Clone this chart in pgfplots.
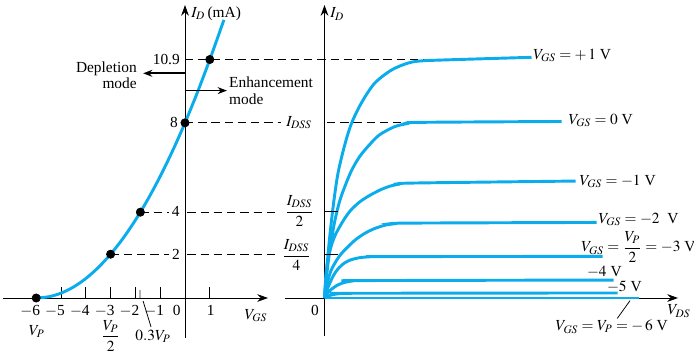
\documentclass[border=0pt]{standalone}
\usepackage{mathptmx}
\usepackage{fontspec}
\setmainfont{Liberation Serif}
\usepackage{pgfplots}
\pgfplotsset{compat=1.18}
\usetikzlibrary{arrows.meta}
\definecolor{curve}{RGB}{10,172,236}
\tikzset{dsh/.style={black,line width=0.6pt,dash pattern=on 5.4pt off 3.2pt}}
\begin{document}
\begin{tikzpicture}
\useasboundingbox (0,0) rectangle (451.1pt,229.45pt);
% ---------------- left: transfer characteristic ----------------
\begin{axis}[
  at={(1.95pt,9.75pt)}, anchor=south west,
  x=16.12pt, y=14.235pt,
  xmin=-7.339, xmax=3.347, ymin=-1.826, ymax=13.379,
  axis lines=middle, enlargelimits=false, clip=false,
  axis line style={line width=0.6pt, -{Stealth[length=7pt,width=5pt]}},
  xtick={-5,-4,-3,-2,-1,1}, xticklabel={\mbox{}}, ytick=\empty,
  xtick align=inside, major tick length=7.2pt,
  tick style={line width=0.6pt, black},
]
\draw[dsh] (axis cs:0,10.89) -- (axis cs:10.56,10.89);
\draw[dsh] (axis cs:0,8) -- (axis cs:3.87,8);
\draw[dsh] (axis cs:-1.8,3.92) -- (axis cs:-0.65,3.92);
\draw[dsh] (axis cs:0.1,3.92) -- (axis cs:3.83,3.92);
\draw[dsh] (axis cs:-3,2) -- (axis cs:-0.65,2);
\draw[dsh] (axis cs:0.1,2) -- (axis cs:3.83,2);
\addplot[curve, line width=1.9pt, smooth] coordinates {
(-6,0) (-5.5,0.056) (-5,0.222) (-4.5,0.5) (-4,0.889) (-3.5,1.389) (-3,2)
(-2.5,2.722) (-2,3.556) (-1.5,4.5) (-1,5.556) (-0.5,6.722) (0,8) (0.5,9.389)
(1,10.889) (1.57,12.7)};
\addplot[only marks, mark=*, mark size=2.7pt, black] coordinates {
(-6,0) (-3,2) (-1.8,3.92) (0,8) (1,10.89)};
\draw[gray!60, line width=1.2pt] (axis cs:-1.8,0) -- (axis cs:-1.8,0.37);
\draw[black, line width=0.5pt] (axis cs:-1.69,-0.14) -- (axis cs:-1.37,-1.32);
% labels
\node[anchor=west, inner sep=0] at (axis cs:0.24,13.0) {$I_D$\,(mA)};
\node at (axis cs:2.86,-0.8) {$V_{GS}$};
\node[anchor=east, inner sep=0] at (axis cs:-0.2,10.87) {10.9};
\node[anchor=east, inner sep=0] at (axis cs:-0.28,8) {8};
\node at (axis cs:-0.375,3.95) {4};
\node at (axis cs:-0.36,2) {2};
\foreach \v in {-6,-5,-4,-3,-2,-1}{
  \edef\tmp{\noexpand\node at (axis cs:\v,-0.58) {\noexpand\llap{$-$}\the\numexpr-\v\relax};}\tmp
}
\node at (axis cs:-0.33,-0.58) {0};
\node at (axis cs:1.04,-0.58) {1};
\node at (axis cs:-5.98,-1.54) {$V_P$};
\node at (axis cs:-3.0,-1.72) {$\displaystyle\frac{V_P}{2}$};
\node at (axis cs:-1.29,-1.74) {$0.3V_P$};
\node[anchor=east, align=right, inner sep=0] at (axis cs:-1.935,10.18) {Depletion\\[-1.4pt]mode};
\draw[line width=1.1pt, -{Stealth[length=6pt,width=4.5pt]}] (axis cs:0,10.26) -- (axis cs:-1.69,10.26);
\node[anchor=west, align=left, inner sep=0] at (axis cs:1.77,9.47) {Enhancement\\[-1.4pt]mode};
\draw[line width=1.1pt, -{Stealth[length=6pt,width=4.5pt]}] (axis cs:0,9.47) -- (axis cs:1.69,9.47);
\end{axis}
% ---------------- right: drain characteristics ----------------
\begin{axis}[
  at={(185.25pt,11.05pt)}, anchor=south west,
  x=0.65pt, y=14.235pt,
  xmin=-39.5, xmax=353.5, ymin=-1.735, ymax=13.379,
  axis lines=middle, enlargelimits=false, clip=false,
  axis line style={line width=0.6pt, -{Stealth[length=7pt,width=5pt]}},
  xtick=\empty, ytick=\empty,
]
\draw[dsh] (axis cs:2.5,8) -- (axis cs:95.5,8);
\addplot[curve, line width=1.9pt, smooth] coordinates {
(0,0) (2,1.2) (5,2.7) (9,4.3) (13.5,5.7) (20,6.95) (26.8,7.95) (36.8,8.9)
(50,9.8) (67,10.41) (83,10.72) (95,10.82) (120,10.87) (207,10.99)};
\addplot[curve, line width=1.9pt, smooth] coordinates {
(0,0) (2,0.95) (5,2.1) (10,3.45) (15,4.4) (20,5.05) (26.8,5.8) (35,6.45)
(45,7.0) (55,7.45) (70,7.82) (83.5,7.97) (95,8.02) (237,8.06)};
\addplot[curve, line width=1.9pt, smooth] coordinates {
(0,0) (1.5,1.1) (3.5,1.75) (6.5,2.34) (10,2.8) (13.5,3.12) (20,3.62) (26.5,4.02)
(35,4.38) (43.5,4.64) (55,4.92) (65,5.1) (75,5.2) (90,5.25) (251,5.34)};
\addplot[curve, line width=1.9pt, smooth] coordinates {
(0,0) (1.5,0.42) (3.5,0.82) (6.5,1.25) (10.2,1.58) (16,1.98) (23.5,2.34) (31,2.66)
(40.2,2.95) (50,3.17) (60.2,3.32) (70,3.39) (85,3.42) (272,3.45)};
\addplot[curve, line width=1.9pt, smooth] coordinates {
(0,0) (2,0.3) (5.2,0.67) (9,1.03) (13.5,1.33) (20,1.6) (26.8,1.75) (35,1.84)
(45,1.88) (60,1.89) (278,1.9)};
\addplot[curve, line width=1.9pt, smooth] coordinates {
(0,0) (2,0.15) (5.2,0.33) (9,0.47) (13.5,0.6) (20,0.71) (26.8,0.77) (35,0.795) (289,0.82)};
\addplot[curve, line width=1.9pt, smooth] coordinates {
(0,0) (3,0.08) (8,0.15) (15,0.2) (25,0.215) (293,0.23)};
\addplot[curve, line width=1.9pt] coordinates {(0,0) (314,0)};
% short ticks at I_DSS/2 and I_DSS/4, drawn over the curves
\draw[black, line width=0.6pt] (axis cs:0,3.97) -- (axis cs:13,3.97);
\draw[black, line width=0.6pt] (axis cs:0,1.98) -- (axis cs:13,1.98);
% labels
\node[anchor=west, inner sep=0] at (axis cs:5.5,12.97) {$I_D$};
\node at (axis cs:354.5,-0.6) {$V_{DS}$};
\node at (axis cs:-9.5,-0.55) {0};
\node[anchor=east, inner sep=0] at (axis cs:-12.5,8.02) {$I_{DSS}$};
\node at (axis cs:-25,3.97) {$\displaystyle\frac{I_{DSS}}{2}$};
\node at (axis cs:-28,1.96) {$\displaystyle\frac{I_{DSS}}{4}$};
\node[anchor=west, inner sep=0] at (axis cs:208.5,11.08) {$V_{GS} = +\,1$ V};
\node[anchor=west, inner sep=0] at (axis cs:243.8,8.12) {$V_{GS} = 0$ V};
\node[anchor=west, inner sep=0] at (axis cs:254.8,5.31) {$V_{GS} = -1$ V};
\node[anchor=west, inner sep=0] at (axis cs:273.8,3.6) {$V_{GS} = -2$\ \ V};
\node[anchor=west, inner sep=0] at (axis cs:256.5,2.34) {$V_{GS} = \displaystyle\frac{V_P}{2} = -3$ V};
\node[anchor=west, inner sep=0] at (axis cs:262.2,1.2) {$-4$ V};
\node[anchor=west, inner sep=0] at (axis cs:282.2,0.52) {$-5$ V};
\node at (axis cs:287.2,-1.31) {$V_{GS} = V_P = -\,6$ V};
\draw[black, line width=0.5pt] (axis cs:305.5,-0.12) -- (axis cs:292.8,-0.93);
\end{axis}
\end{tikzpicture}
\end{document}
